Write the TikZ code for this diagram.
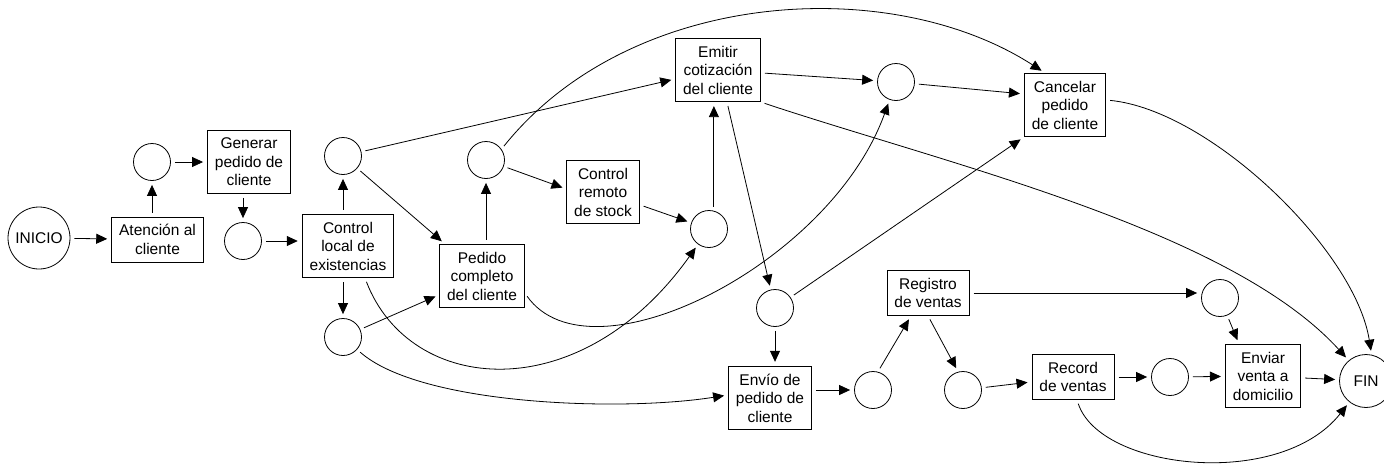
\documentclass[tikz,border=0pt]{standalone}
\usepackage{fontspec}
\setmainfont{Liberation Sans}
\usetikzlibrary{arrows.meta}

\begin{document}
\begin{tikzpicture}[x=1pt, y=-1pt, line width=0.8pt,
    >={Triangle[length=11pt,width=10pt]},
    every node/.style={font=\fontsize{15.5}{18.5}\selectfont},
    proc/.style={draw, align=center, inner xsep=7.5pt, inner ysep=7.5pt},
    place/.style={draw, circle, minimum size=37pt, inner sep=0pt},
    flow/.style={->, shorten <=4pt, shorten >=4pt}]
    \useasboundingbox (0,0) rectangle (1384,464);

    \node[place, minimum size=62pt] (inicio) at (39,238) {INICIO};
    \node[place, minimum size=53pt] (fin) at (1366,381) {FIN};

    \node[proc] (aten) at (157.5,239.5) {Atención al\\cliente};
    \node[proc] (gen) at (249,162) {Generar\\pedido de\\cliente};
    \node[proc] (ctrl) at (348,246) {Control\\local de\\existencias};
    \node[proc] (ped) at (482,276) {Pedido\\completo\\del cliente};
    \node[proc] (rem) at (603,192) {Control\\remoto\\de stock};
    \node[proc] (emi) at (718,70) {Emitir\\cotización\\del cliente};
    \node[proc] (canc) at (1065,105) {Cancelar\\pedido\\de cliente};
    \node[proc] (envio) at (770,398) {Envío de\\pedido de\\cliente};
    \node[proc] (reg) at (928,293) {Registro\\de ventas};
    \node[proc] (rec) at (1073,377) {Record\\de ventas};
    \node[proc] (env) at (1263,376) {Enviar\\venta a\\domicilio};

    \node[place] (p1) at (152,162) {};
    \node[place] (p2) at (243,241) {};
    \node[place] (p3) at (343,156) {};
    \node[place] (p4) at (343,337) {};
    \node[place] (p5) at (486,160) {};
    \node[place] (p6) at (709,229) {};
    \node[place] (p7) at (896,82) {};
    \node[place] (p8) at (775,308) {};
    \node[place] (p9) at (873,390) {};
    \node[place] (p10) at (963,390) {};
    \node[place] (p11) at (1170,377) {};
    \node[place] (p12) at (1220,298) {};

    \draw[flow] (inicio) -- (aten);
    \draw[flow] (aten.north -| p1) -- (p1);
    \draw[flow] (p1) -- (gen);
    \draw[flow] (gen.south -| p2) -- (p2);
    \draw[flow] (p2) -- (p2 -| ctrl.west);
    \draw[flow] (ctrl.north -| p3) -- (p3);
    \draw[flow] (ctrl.south -| p4) -- (p4);
    \draw[flow] (p3) -- (ped);
    \draw[flow] (p4) -- (ped);
    \draw[flow] (p3) -- ([yshift=-9pt]emi.west);
    \draw[flow] (ped.north -| p5) -- (p5);
    \draw[flow] (p5) -- ([yshift=3pt]rem.west);
    \draw[flow] (rem) -- (p6);
    \draw[flow] (p6.75) -- (p6.75 |- emi.south);
    \draw[flow] (emi) -- (p7);
    \draw[flow] (p7) -- ([yshift=11pt]canc.west);
    \draw[flow] ([xshift=9pt]emi.south) -- (p8);
    \draw[flow] (p8) -- (canc.south west);
    \draw[flow] (p8) -- (envio.north -| p8);
    \draw[flow] (envio.east |- p9) -- (p9);
    \draw[flow] (p9.75) -- ([xshift=-17pt]reg.south);
    \draw[flow] (reg.south) -- (p10.105);
    \draw[flow] (reg.east) -- (reg.east -| p12.west);
    \draw[flow] (p10) -- (rec);
    \draw[flow] (rec) -- (p11);
    \draw[flow] (p11) -- (env);
    \draw[flow] (p12) -- ([xshift=-24pt]env.north);
    \draw[flow] (env) -- (fin);

    \draw[flow] ([xshift=17pt]ctrl.south) .. controls (410,395) and (580,410) .. (p6);
    \draw[flow] (p4) .. controls (420,405) and (620,412) .. ([yshift=3pt]envio.west);
    \draw[flow] ([yshift=-17pt]ped.east) .. controls (590,385) and (830,265) .. (p7);
    \draw[flow] (p5.35) .. controls (630,-11) and (890,-27) .. ([xshift=-20pt]canc.north);
    \draw[flow] (emi.south east) .. controls (950,165) and (1230,230) .. (fin.130);
    \draw[flow] ([yshift=5pt]canc.east) .. controls (1210,110) and (1355,250) .. (fin.78);
    \draw[flow] ([xshift=4pt]rec.south) .. controls (1100,470) and (1280,490) .. (fin);
\end{tikzpicture}
\end{document}
